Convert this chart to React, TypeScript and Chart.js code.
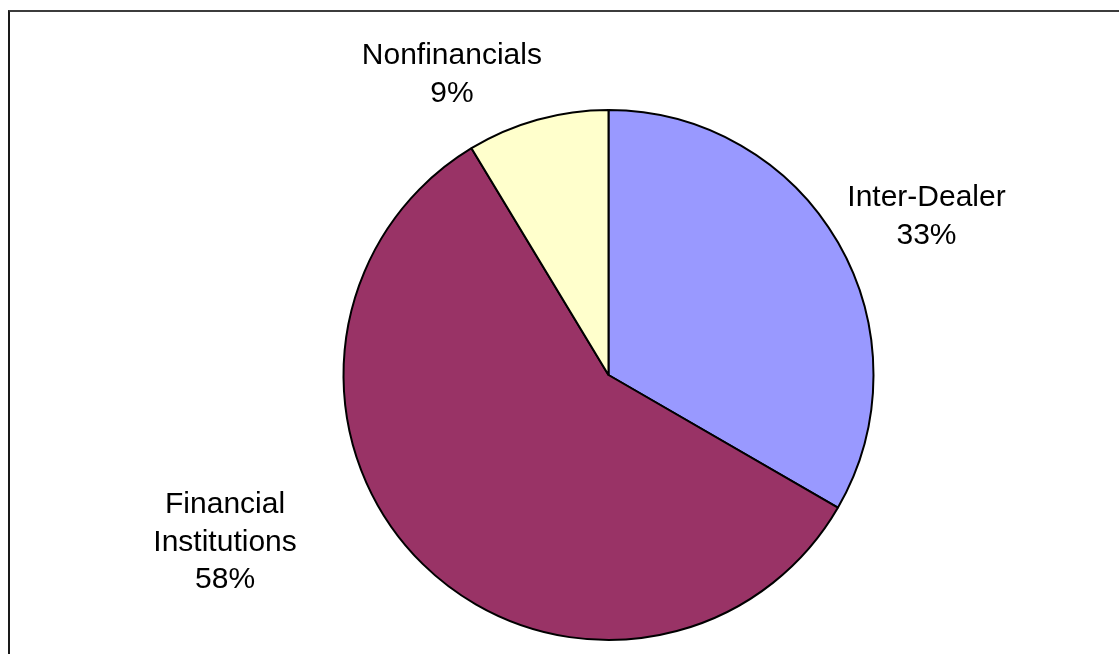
import React, { useEffect, useRef } from "react";
import { Chart, registerables } from "chart.js";

Chart.register(...registerables);

const categories = ["Inter-Dealer", "Financial Institutions", "Nonfinancials"];
const labelLines = [["Inter-Dealer"], ["Financial", "Institutions"], ["Nonfinancials"]];
const shares = [33.35, 58.0, 8.65];
const sliceColors = ["#9999FF", "#993366", "#FFFFCC"];
// label anchor offsets, in units of the pie radius from the pie centre
const labelOffsetX = [1.2, -1.447, -0.591];
const labelOffsetY = [-0.606, 0.623, -1.143];

const FONT_SIZE = 30;
const LINE_GAP = 37.5;

const labelPlugin = {
  id: "sliceLabels",
  afterDatasetsDraw(chart: any) {
    const meta = chart.getDatasetMeta(0);
    const ctx = chart.ctx as CanvasRenderingContext2D;
    const data = chart.data.datasets[0].data as number[];
    const total = data.reduce((a, b) => a + b, 0);
    ctx.save();
    ctx.fillStyle = "#000";
    ctx.font = `${FONT_SIZE}px "Liberation Sans", Arial, sans-serif`;
    ctx.textAlign = "center";
    ctx.textBaseline = "alphabetic";
    meta.data.forEach((arc: any, i: number) => {
      const { x, y, outerRadius } = arc.getProps(["x", "y", "outerRadius"], true);
      const cx = x + labelOffsetX[i] * outerRadius;
      const cy = y + labelOffsetY[i] * outerRadius;
      const lines = [...labelLines[i], `${Math.round((data[i] / total) * 100)}%`];
      const n = lines.length;
      lines.forEach((t, k) => {
        const ly = cy + (k - (n - 1) / 2) * LINE_GAP + FONT_SIZE * 0.358;
        ctx.fillText(t, cx, ly);
      });
    });
    ctx.restore();
  },
};

export default function App() {
  const ref = useRef<HTMLCanvasElement | null>(null);
  useEffect(() => {
    if (!ref.current) return;
    const chart = new Chart(ref.current, {
      type: "pie",
      data: {
        labels: categories,
        datasets: [
          {
            data: shares,
            backgroundColor: sliceColors,
            borderColor: "#000000",
            borderWidth: 2,
          },
        ],
      },
      options: {
        responsive: false,
        animation: false,
        layout: { padding: { top: 109, bottom: 13, left: 342, right: 244 } },
        plugins: {
          legend: { display: false },
          tooltip: { enabled: false },
          title: { display: false },
        },
      },
      plugins: [labelPlugin],
    });
    return () => chart.destroy();
  }, []);
  return (
    <div style={{ position: "fixed", left: 0, top: 0, width: 1119, height: 654, background: "#fff", overflow: "hidden" }}>
      <div
        style={{
          position: "absolute",
          left: 8,
          top: 10,
          width: 1119,
          height: 654,
          borderTop: "2px solid #3c3c3c",
          borderLeft: "2px solid #1a1a1a",
          boxSizing: "border-box",
        }}
      />
      <canvas ref={ref} width={1119} height={654} style={{ position: "absolute", left: 0, top: 0, width: 1119, height: 654 }} />
    </div>
  );
}
